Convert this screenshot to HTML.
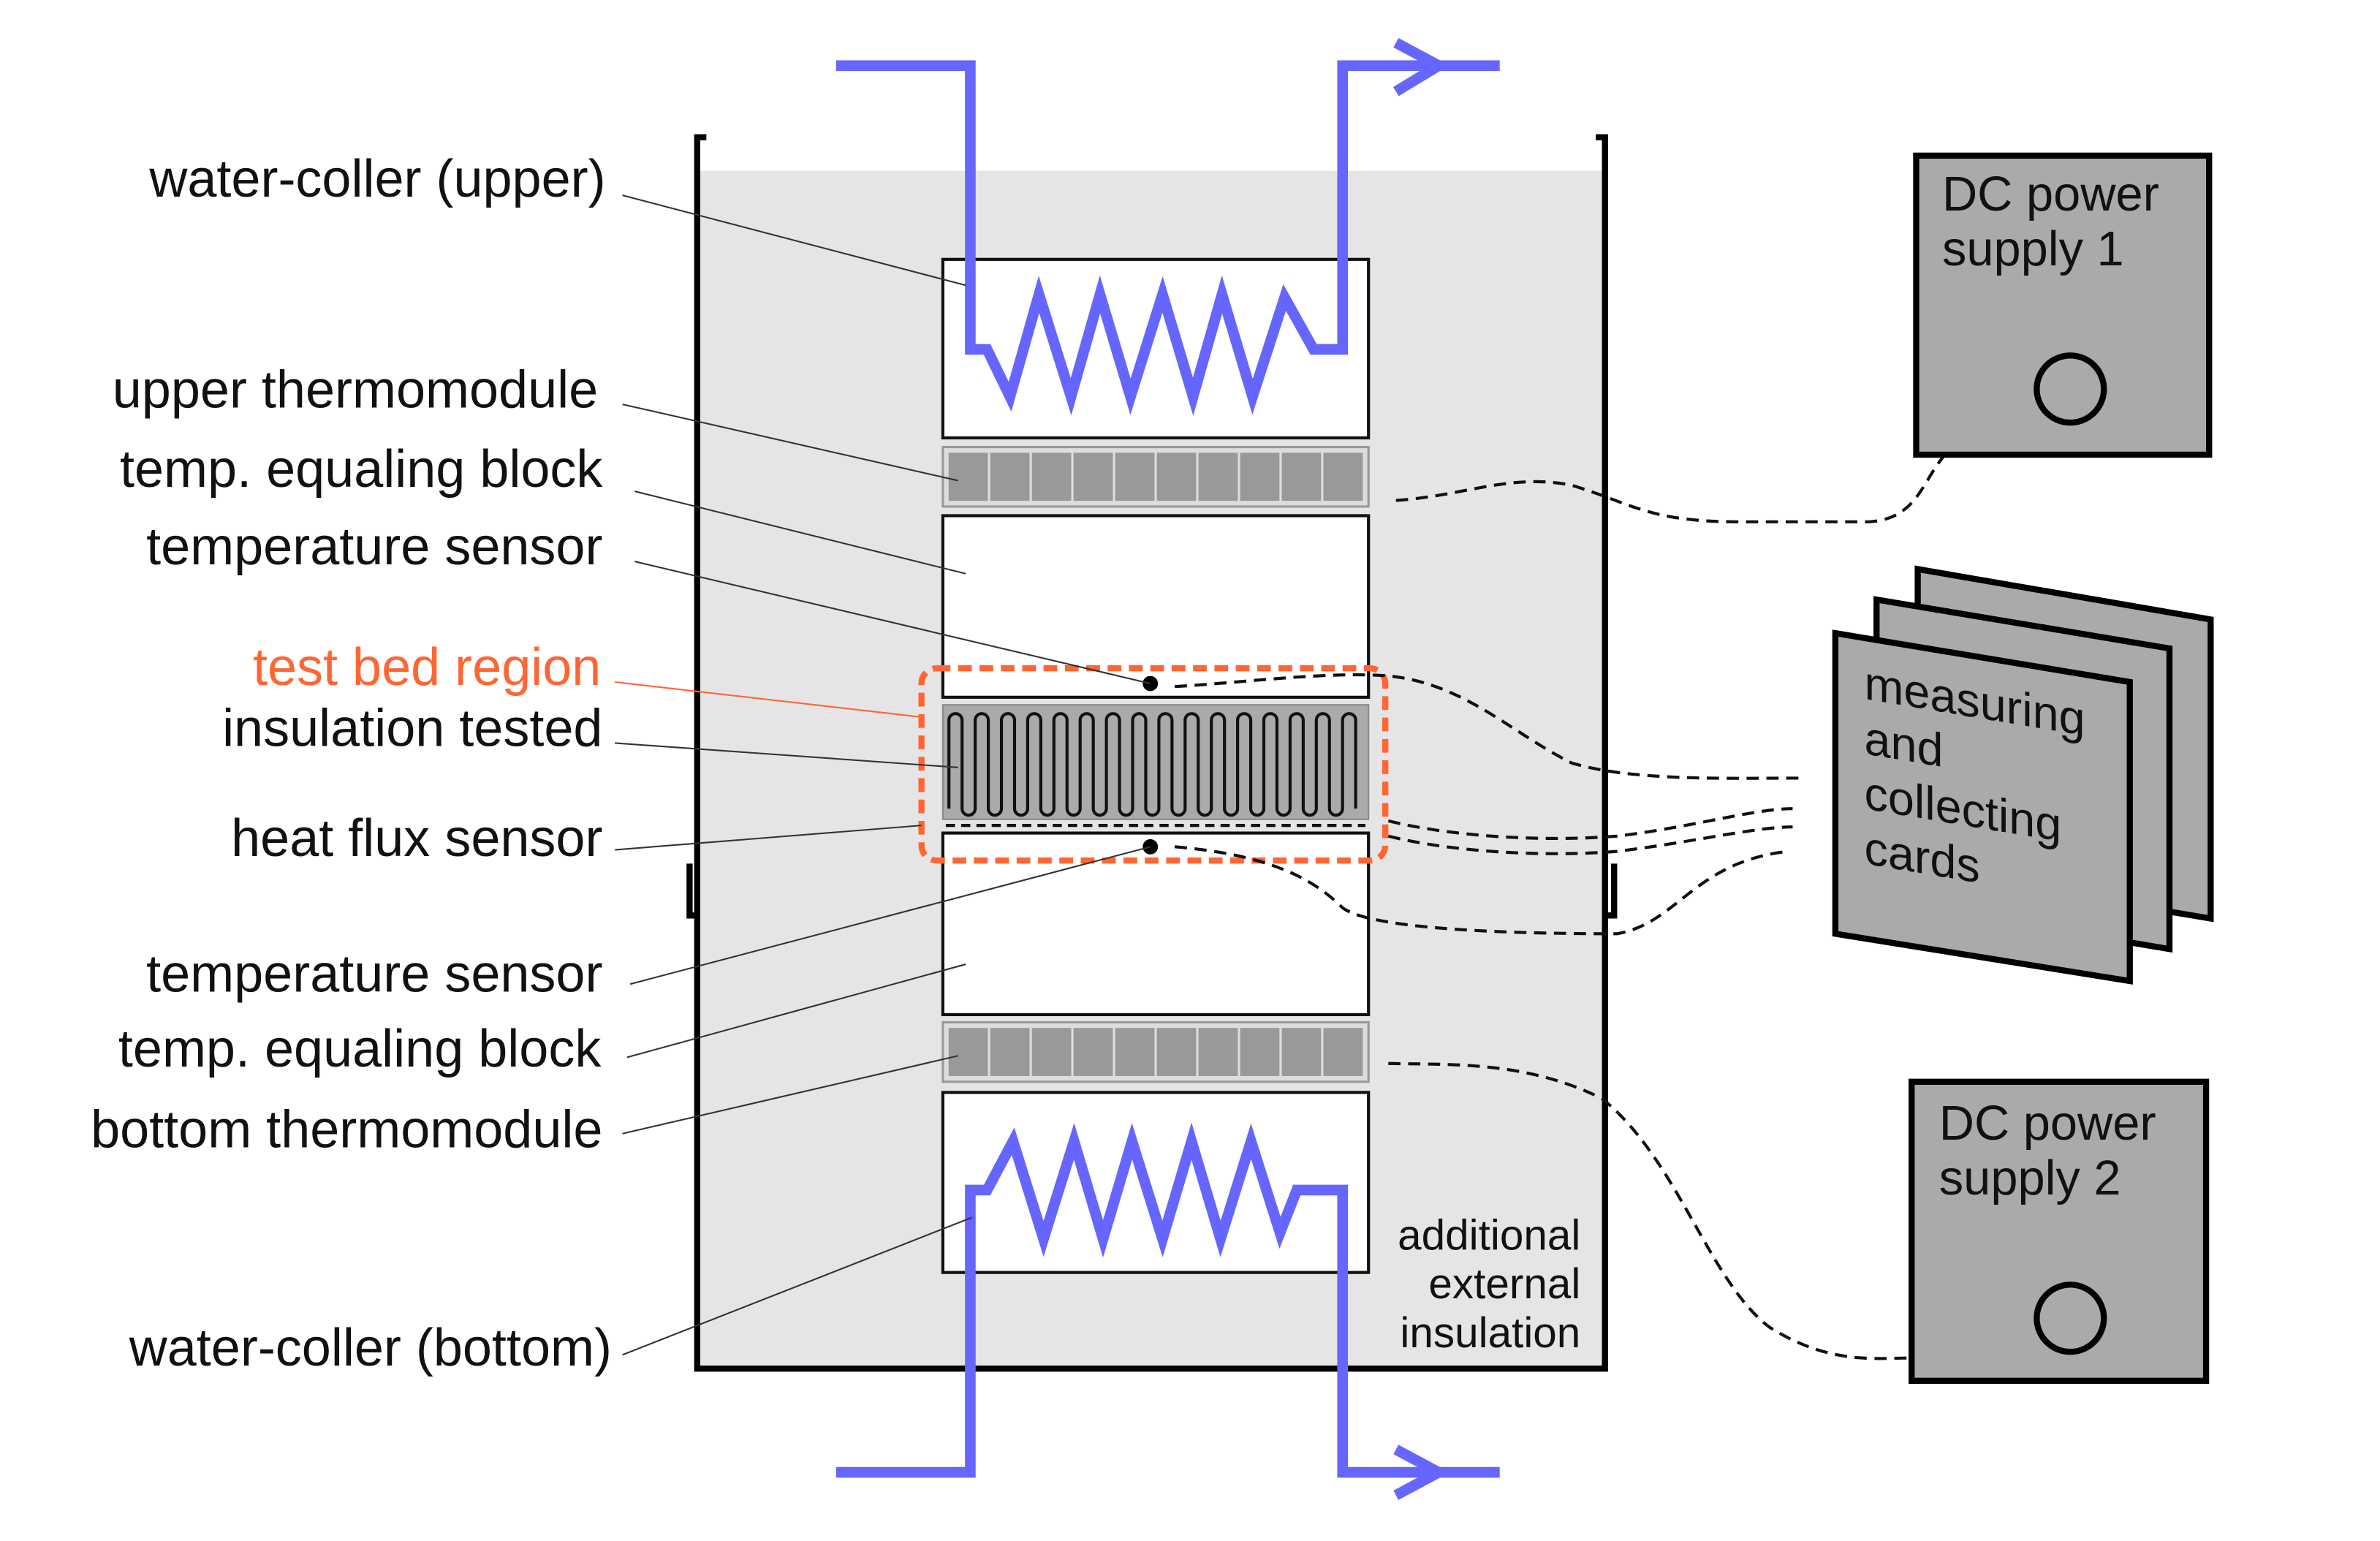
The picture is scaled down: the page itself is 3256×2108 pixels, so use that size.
<!DOCTYPE html>
<html><head><meta charset="utf-8"><style>html,body{margin:0;padding:0;background:#fff}svg{display:block}</style></head>
<body>
<svg width="3256" height="2108" viewBox="0 0 1560 1010" preserveAspectRatio="none" xmlns="http://www.w3.org/2000/svg" font-family="Liberation Sans, sans-serif">
<defs><clipPath id="ins"><rect x="618" y="462" width="279" height="75"/></clipPath></defs>
<rect x="0" y="0" width="1560" height="1010" fill="#fff"/>
<!-- container -->
<rect x="459" y="112" width="591" height="785" fill="#e5e5e5"/>
<path d="M463,90 H457 V897 H1052 V90 H1046" fill="none" stroke="#000" stroke-width="4"/>
<path d="M452,566 V600 H457 M1058,566 V600 H1052" fill="none" stroke="#000" stroke-width="4"/>
<!-- blocks -->
<rect x="618" y="170" width="279" height="117" fill="#fff" stroke="#111" stroke-width="2"/>
<rect x="618" y="293" width="279" height="39" fill="#ddd" stroke="#999" stroke-width="1.5"/>
<g fill="#999" stroke="#ddd" stroke-width="1.5">
<rect x="621" y="296" width="27.3" height="33"/><rect x="648.3" y="296" width="27.3" height="33"/><rect x="675.6" y="296" width="27.3" height="33"/><rect x="702.9" y="296" width="27.3" height="33"/><rect x="730.2" y="296" width="27.3" height="33"/><rect x="757.5" y="296" width="27.3" height="33"/><rect x="784.8" y="296" width="27.3" height="33"/><rect x="812.1" y="296" width="27.3" height="33"/><rect x="839.4" y="296" width="27.3" height="33"/><rect x="866.7" y="296" width="27.3" height="33"/>
</g>
<rect x="618" y="338" width="279" height="119" fill="#fff" stroke="#111" stroke-width="2"/>
<rect x="618" y="462" width="279" height="75" fill="#aaa" stroke="#888" stroke-width="1"/>
<path clip-path="url(#ins)" d="M622,530 V472 a4.3,4.3 0 0 1 8.6,0 V530 a4.3,4.3 0 0 0 8.6,0 V472 a4.3,4.3 0 0 1 8.6,0 V530 a4.3,4.3 0 0 0 8.6,0 V472 a4.3,4.3 0 0 1 8.6,0 V530 a4.3,4.3 0 0 0 8.6,0 V472 a4.3,4.3 0 0 1 8.6,0 V530 a4.3,4.3 0 0 0 8.6,0 V472 a4.3,4.3 0 0 1 8.6,0 V530 a4.3,4.3 0 0 0 8.6,0 V472 a4.3,4.3 0 0 1 8.6,0 V530 a4.3,4.3 0 0 0 8.6,0 V472 a4.3,4.3 0 0 1 8.6,0 V530 a4.3,4.3 0 0 0 8.6,0 V472 a4.3,4.3 0 0 1 8.6,0 V530 a4.3,4.3 0 0 0 8.6,0 V472 a4.3,4.3 0 0 1 8.6,0 V530 a4.3,4.3 0 0 0 8.6,0 V472 a4.3,4.3 0 0 1 8.6,0 V530 a4.3,4.3 0 0 0 8.6,0 V472 a4.3,4.3 0 0 1 8.6,0 V530 a4.3,4.3 0 0 0 8.6,0 V472 a4.3,4.3 0 0 1 8.6,0 V530 a4.3,4.3 0 0 0 8.6,0 V472 a4.3,4.3 0 0 1 8.6,0 V530 a4.3,4.3 0 0 0 8.6,0 V472 a4.3,4.3 0 0 1 8.6,0 V530 a4.3,4.3 0 0 0 8.6,0 V472 a4.3,4.3 0 0 1 8.6,0 V530 a4.3,4.3 0 0 0 8.6,0 V472 a4.3,4.3 0 0 1 8.6,0 V530" fill="none" stroke="#111" stroke-width="2"/>
<line x1="620" y1="541" x2="895" y2="541" stroke="#111" stroke-width="2" stroke-dasharray="6,4"/>
<rect x="618" y="546" width="279" height="119" fill="#fff" stroke="#111" stroke-width="2"/>
<rect x="618" y="670" width="279" height="39" fill="#ddd" stroke="#999" stroke-width="1.5"/>
<g fill="#999" stroke="#ddd" stroke-width="1.5">
<rect x="621" y="673" width="27.3" height="33"/><rect x="648.3" y="673" width="27.3" height="33"/><rect x="675.6" y="673" width="27.3" height="33"/><rect x="702.9" y="673" width="27.3" height="33"/><rect x="730.2" y="673" width="27.3" height="33"/><rect x="757.5" y="673" width="27.3" height="33"/><rect x="784.8" y="673" width="27.3" height="33"/><rect x="812.1" y="673" width="27.3" height="33"/><rect x="839.4" y="673" width="27.3" height="33"/><rect x="866.7" y="673" width="27.3" height="33"/>
</g>
<rect x="618" y="716" width="279" height="118" fill="#fff" stroke="#111" stroke-width="2"/>
<!-- orange region -->
<rect x="604" y="438" width="304" height="126" rx="10" fill="none" stroke="#ff6633" stroke-width="4" stroke-dasharray="9,5"/>
<circle cx="754" cy="448" r="5" fill="#000"/>
<circle cx="754" cy="555" r="5" fill="#000"/>
<!-- pipes -->
<g fill="none" stroke="#6666ff" stroke-width="7">
<polyline points="548,43 636,43 636,229 647,229 662,260 681,193 702,260 721,193 741,260 762,193 782,260 801,193 821,260 842,195 861,229 880,229 880,43 983,43"/>
<polyline points="915,28 943,43 915,60"/>
<polyline points="548,965 636,965 636,780 647,780 664,748 684,812 704,748 723,812 742,748 762,812 781,748 800,812 820,748 839,808 850,780 880,780 880,965 983,965"/>
<polyline points="915,950 943,965 915,980"/>
</g>
<!-- leaders -->
<g stroke="#333" stroke-width="1" fill="none">
<line x1="408" y1="128" x2="633" y2="187"/>
<line x1="408" y1="265" x2="628" y2="315"/>
<line x1="416" y1="322" x2="633" y2="376"/>
<line x1="416" y1="368" x2="754" y2="448"/>
<line x1="403" y1="487" x2="628" y2="503"/>
<line x1="403" y1="557" x2="604" y2="541"/>
<line x1="413" y1="645" x2="754" y2="555"/>
<line x1="411" y1="693" x2="633" y2="632"/>
<line x1="408" y1="743" x2="628" y2="692"/>
<line x1="408" y1="888" x2="637" y2="798"/>
</g>
<line x1="403" y1="447" x2="604" y2="470" stroke="#ff6633" stroke-width="1"/>
<!-- labels -->
<g font-size="34.5" text-anchor="end" fill="#111">
<text x="397" y="129">water-coller (upper)</text>
<text x="392" y="267">upper thermomodule</text>
<text x="395" y="319">temp. equaling block</text>
<text x="395" y="370">temperature sensor</text>
<text x="394" y="449" fill="#ff6633">test bed region</text>
<text x="395" y="489">insulation tested</text>
<text x="395" y="561">heat flux sensor</text>
<text x="395" y="650">temperature sensor</text>
<text x="394" y="699">temp. equaling block</text>
<text x="395" y="752">bottom thermomodule</text>
<text x="401" y="895">water-coller (bottom)</text>
</g>
<g font-size="28" text-anchor="end" fill="#111">
<text x="1036" y="819">additional</text>
<text x="1036" y="851">external</text>
<text x="1036" y="883">insulation</text>
</g>
<!-- dashed wires -->
<g fill="none" stroke="#111" stroke-width="2" stroke-dasharray="8,5">
<path d="M915,328 C960,325 990,310 1030,318 C1070,330 1080,342 1140,342 L1225,342 C1260,340 1260,310 1280,293"/>
<path d="M770,450 C820,447 870,440 910,443 C960,448 990,480 1030,500 C1070,512 1130,510 1180,510"/>
<path d="M910,538 C950,548 1010,552 1060,548 C1110,542 1150,530 1175,530"/>
<path d="M910,548 C950,558 1010,562 1060,558 C1110,552 1150,542 1175,542"/>
<path d="M770,555 C830,560 860,575 880,595 C900,610 1000,612 1060,612 C1100,605 1110,565 1172,558"/>
<path d="M910,697 C950,698 1000,695 1050,720 C1100,760 1120,840 1160,870 C1200,895 1230,890 1255,890"/>
</g>
<!-- DC power supplies -->
<rect x="1256" y="102" width="192" height="196" fill="#aaa" stroke="#000" stroke-width="4"/>
<text x="1273" y="138" font-size="32" fill="#111">DC power</text>
<text x="1273" y="174" font-size="32" fill="#111">supply 1</text>
<circle cx="1357" cy="255" r="22" fill="none" stroke="#000" stroke-width="4"/>
<rect x="1253" y="709" width="193" height="196" fill="#aaa" stroke="#000" stroke-width="4"/>
<text x="1271" y="747" font-size="32" fill="#111">DC power</text>
<text x="1271" y="783" font-size="32" fill="#111">supply 2</text>
<circle cx="1357" cy="864" r="22" fill="none" stroke="#000" stroke-width="4"/>
<!-- cards -->
<g fill="#aaa" stroke="#000" stroke-width="4" stroke-linejoin="miter">
<polygon points="1257,373 1449,406 1449,602 1257,570"/>
<polygon points="1230,393 1422,425 1422,622 1230,590"/>
<polygon points="1203,415 1396,447 1396,643 1203,612"/>
</g>
<g font-size="31" fill="#111" transform="translate(1222,455) skewY(9.5) translate(-1222,-455)">
<text x="1222" y="458">measuring</text>
<text x="1222" y="494">and</text>
<text x="1222" y="530">collecting</text>
<text x="1222" y="566">cards</text>
</g>
</svg>
</body></html>
